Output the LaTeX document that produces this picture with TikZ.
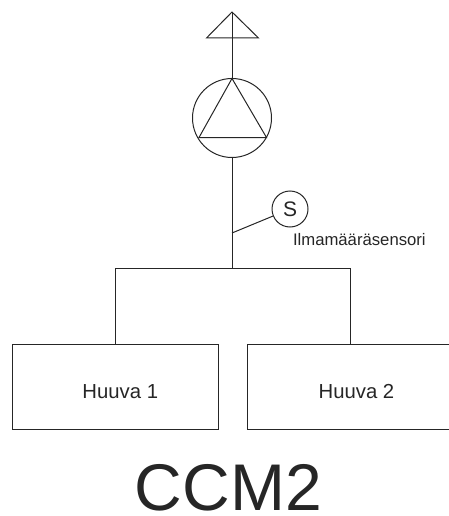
\documentclass[tikz,border=0pt]{standalone}
\usepackage{fontspec}
\setmainfont{Liberation Sans}
\tikzset{
  hoodbox/.style={draw,minimum width=206pt,minimum height=85pt,inner sep=0pt},
  hoodlabel/.style={inner sep=0pt,font=\fontsize{20.3}{24}\selectfont},
  sensorcirc/.style={draw,circle,minimum size=36pt,inner sep=0pt,font=\fontsize{21}{24}\selectfont},
  fancirc/.style={draw,circle,minimum size=79pt,inner sep=0pt},
}
\begin{document}
\begin{tikzpicture}[x=1pt,y=-1pt,line width=1pt,color=black!85]
    \useasboundingbox (0,0) rectangle (448,516);
    % fan
    \node[fancirc] (fan) at (232,118) {};
    \coordinate (fantop) at (232,78.5);
    \coordinate (fanleft) at (199,137.5);
    \coordinate (fanright) at (266.5,137.5);
    \draw (fantop) -- (fanleft) -- (fanright) -- cycle;
    % outlet
    \coordinate (ventapex) at (232,12);
    \coordinate (ventleft) at (206.5,38);
    \coordinate (ventright) at (258.5,38);
    \draw (ventapex) -- (ventleft) -- (ventright) -- cycle;
    \draw (ventapex) -- (fan.north);
    % hoods
    \node[hoodbox] (hood1) at (115,386.5) {};
    \node[hoodbox] (hood2) at (350.5,386.5) {};
    \node[hoodlabel,anchor=base] (hoodlabel1) at (120.3,398) {Huuva 1};
    \node[hoodlabel,anchor=base] (hoodlabel2) at (356.5,398) {Huuva 2};
    % ducts
    \coordinate (split) at (232,268.5);
    \coordinate (tap) at (232,233);
    \draw (fan.south) -- (split);
    \draw (hood1.north) |- (split) -| (hood2.north);
    % sensor
    \node[sensorcirc] (sensor) at (290,209) {S};
    \node[anchor=base west,inner sep=0pt,font=\fontsize{16.7}{20}\selectfont] (sensorlabel) at (292.5,245) {Ilmamääräsensori};
    \draw (tap) -- (sensor);
    % title
    \node[anchor=base,font=\fontsize{66}{70}\selectfont,inner sep=0pt] (title) at (228.5,510) {CCM2};
\end{tikzpicture}
\end{document}
